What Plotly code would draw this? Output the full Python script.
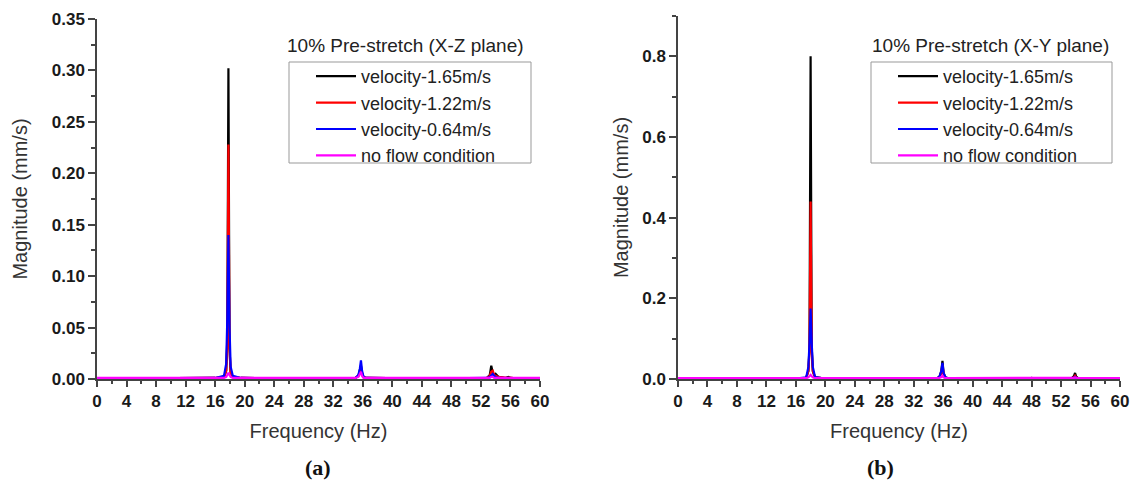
import plotly.graph_objects as go

W, H = 1137, 489

# ---------- data: panel (a) X-Z plane ----------
freq_a = [0, 8, 16, 17.2, 17.5, 17.65, 17.8, 17.95, 18.1, 18.4, 19.5, 28,
          35.0, 35.4, 35.6, 35.75, 35.9, 36.1, 36.5, 45,
          52.8, 53.2, 53.4, 53.6, 53.8, 54.0, 54.4, 55.3, 55.7, 56.1, 57, 60]
a_v165 = [0.0005, 0.0005, 0.001, 0.002, 0.008, 0.04, 0.302, 0.03, 0.006, 0.002, 0.001, 0.0005,
          0.001, 0.003, 0.008, 0.013, 0.006, 0.002, 0.001, 0.0005,
          0.001, 0.004, 0.013, 0.006, 0.003, 0.005, 0.002, 0.001, 0.002, 0.001, 0.0005, 0.0005]
a_v122 = [0.0005, 0.0005, 0.001, 0.002, 0.008, 0.035, 0.228, 0.03, 0.006, 0.002, 0.001, 0.0005,
          0.001, 0.003, 0.007, 0.010, 0.005, 0.002, 0.001, 0.0005,
          0.001, 0.003, 0.007, 0.008, 0.004, 0.003, 0.002, 0.001, 0.001, 0.001, 0.0005, 0.0005]
a_v064 = [0.0005, 0.0005, 0.001, 0.003, 0.015, 0.06, 0.140, 0.05, 0.012, 0.003, 0.001, 0.0005,
          0.001, 0.004, 0.010, 0.018, 0.008, 0.002, 0.001, 0.0005,
          0.001, 0.002, 0.004, 0.005, 0.003, 0.002, 0.001, 0.001, 0.001, 0.001, 0.0005, 0.0005]
a_noflow = [0.001, 0.001, 0.001, 0.001, 0.002, 0.004, 0.006, 0.004, 0.002, 0.001, 0.001, 0.001,
            0.001, 0.002, 0.005, 0.007, 0.003, 0.001, 0.001, 0.001,
            0.001, 0.001, 0.002, 0.002, 0.001, 0.001, 0.001, 0.001, 0.001, 0.001, 0.001, 0.001]

# ---------- data: panel (b) X-Y plane ----------
freq_b = [0, 8, 16, 17.4, 17.7, 17.85, 18.0, 18.15, 18.3, 18.6, 19.5, 28,
          35.2, 35.5, 35.75, 35.9, 36.05, 36.3, 36.7, 45, 47.6, 48.0, 48.4,
          53.0, 53.5, 53.75, 53.9, 54.05, 54.3, 54.8, 57, 60]
b_v165 = [0.001, 0.001, 0.001, 0.003, 0.02, 0.08, 0.800, 0.08, 0.02, 0.004, 0.002, 0.001,
          0.002, 0.006, 0.02, 0.045, 0.015, 0.004, 0.002, 0.001, 0.001, 0.003, 0.001,
          0.001, 0.003, 0.007, 0.015, 0.006, 0.002, 0.001, 0.001, 0.001]
b_v122 = [0.001, 0.001, 0.001, 0.003, 0.02, 0.07, 0.440, 0.07, 0.02, 0.004, 0.002, 0.001,
          0.002, 0.005, 0.015, 0.035, 0.012, 0.003, 0.002, 0.001, 0.001, 0.002, 0.001,
          0.001, 0.002, 0.004, 0.008, 0.004, 0.002, 0.001, 0.001, 0.001]
b_v064 = [0.001, 0.001, 0.001, 0.004, 0.03, 0.09, 0.175, 0.09, 0.03, 0.005, 0.002, 0.001,
          0.002, 0.006, 0.02, 0.040, 0.015, 0.004, 0.002, 0.001, 0.001, 0.002, 0.001,
          0.001, 0.002, 0.003, 0.005, 0.003, 0.001, 0.001, 0.001, 0.001]
b_noflow = [0.002, 0.002, 0.002, 0.002, 0.004, 0.007, 0.010, 0.007, 0.004, 0.002, 0.002, 0.002,
            0.002, 0.003, 0.005, 0.008, 0.004, 0.002, 0.002, 0.002, 0.002, 0.002, 0.002,
            0.002, 0.002, 0.003, 0.004, 0.003, 0.002, 0.002, 0.002, 0.002]

series_names = ["velocity-1.65m/s", "velocity-1.22m/s", "velocity-0.64m/s", "no flow condition"]
series_colors = ["#000000", "#ff0000", "#0000ff", "#ff00ff"]

x_ticks = [0, 4, 8, 12, 16, 20, 24, 28, 32, 36, 40, 44, 48, 52, 56, 60]
x_tick_labels = ["0", "4", "8", "12", "16", "20", "24", "28", "32", "36", "40", "44", "48", "52", "56", "60"]
ya_ticks = [0, 0.05, 0.10, 0.15, 0.20, 0.25, 0.30, 0.35]
ya_tick_labels = ["0.00", "0.05", "0.10", "0.15", "0.20", "0.25", "0.30", "0.35"]
yb_ticks = [0, 0.2, 0.4, 0.6, 0.8]
yb_tick_labels = ["0.0", "0.2", "0.4", "0.6", "0.8"]

FONT = "Liberation Sans, Arial, sans-serif"
SERIF = "Liberation Serif, Times New Roman, serif"

fig = go.Figure()

for name, color, ya in zip(series_names, series_colors, [a_v165, a_v122, a_v064, a_noflow]):
    fig.add_trace(go.Scatter(x=freq_a, y=ya, mode="lines", name=name,
                             line=dict(color=color, width=2.2),
                             xaxis="x", yaxis="y", legend="legend"))
for name, color, yb in zip(series_names, series_colors, [b_v165, b_v122, b_v064, b_noflow]):
    fig.add_trace(go.Scatter(x=freq_b, y=yb, mode="lines", name=name,
                             line=dict(color=color, width=2.2),
                             xaxis="x2", yaxis="y2", legend="legend2"))

tickfont = dict(family=FONT, size=17, color="#1a1a1a")
titlefont = dict(family=FONT, size=20, color="#333")
AX = "#444"

def bold(labels):
    return ["<b>%s</b>" % s for s in labels]

def xaxis_cfg(domain, anchor):
    return dict(domain=domain, anchor=anchor, range=[0, 60], tickmode="array",
                tickvals=x_ticks, ticktext=bold(x_tick_labels),
                ticks="outside", ticklen=6, tickwidth=1.5,
                tickcolor=AX, showline=True, linecolor=AX, linewidth=1.5,
                showgrid=False, zeroline=False, tickfont=tickfont,
                minor=dict(dtick=2, tick0=0, ticks="outside", ticklen=3, tickcolor=AX, tickwidth=1.5),
                title=dict(text="Frequency (Hz)", font=titlefont, standoff=14),
                automargin=False)

def yaxis_cfg(domain, anchor, rng, tv, tt, minor_dtick, standoff):
    return dict(domain=domain, anchor=anchor, range=rng, tickmode="array",
                tickvals=tv, ticktext=bold(tt),
                ticks="outside", ticklen=7, tickwidth=1.5,
                tickcolor=AX, showline=True, linecolor=AX, linewidth=1.5,
                showgrid=False, zeroline=False, tickfont=tickfont,
                minor=dict(dtick=minor_dtick, tick0=0, ticks="outside", ticklen=4, tickcolor=AX, tickwidth=1.5),
                title=dict(text="Magnitude (mm/s)", font=titlefont, standoff=standoff),
                automargin=False)

legend_common = dict(bgcolor="rgba(0,0,0,0)", borderwidth=0,
                     font=dict(family=FONT, size=18, color="#222"),
                     xanchor="left", yanchor="top", itemwidth=40, tracegroupgap=0)

fig.update_layout(
    width=W, height=H,
    margin=dict(l=0, r=0, t=0, b=0),
    paper_bgcolor="white", plot_bgcolor="white",
    xaxis=xaxis_cfg([97 / W, 540 / W], "y"),
    yaxis=yaxis_cfg([1 - 379 / H, 1 - 19 / H], "x", [0, 0.35], ya_ticks, ya_tick_labels, 0.025, 19),
    xaxis2=xaxis_cfg([678 / W, 1120 / W], "y2"),
    yaxis2=yaxis_cfg([1 - 379 / H, 1 - 16 / H], "x2", [0, 0.9], yb_ticks, yb_tick_labels, 0.1, 8),
    legend=dict(x=311 / W, y=1 - 58 / H, **legend_common),
    legend2=dict(x=893 / W, y=1 - 58 / H, **legend_common),
    showlegend=True,
)

# legend frames
for x0, x1 in [(289, 531), (871, 1112)]:
    fig.add_shape(type="rect", xref="paper", yref="paper",
                  x0=x0 / W, x1=x1 / W, y0=1 - 163 / H, y1=1 - 62 / H,
                  line=dict(color="#999", width=1), fillcolor="white", layer="below")

ann = [
    (405, 45, "10% Pre-stretch (X-Z plane)", FONT, 19, "#222"),
    (990, 45, "10% Pre-stretch (X-Y plane)", FONT, 19, "#222"),
    (318, 467, "<b>(a)</b>", SERIF, 22, "#111"),
    (880, 467, "<b>(b)</b>", SERIF, 22, "#111"),
]
for px, py, txt, fam, sz, col in ann:
    fig.add_annotation(x=px / W, y=1 - py / H, xref="paper", yref="paper",
                       xanchor="center", yanchor="middle",
                       text=txt, showarrow=False,
                       font=dict(family=fam, size=sz, color=col))

fig.write_html("out.html")
